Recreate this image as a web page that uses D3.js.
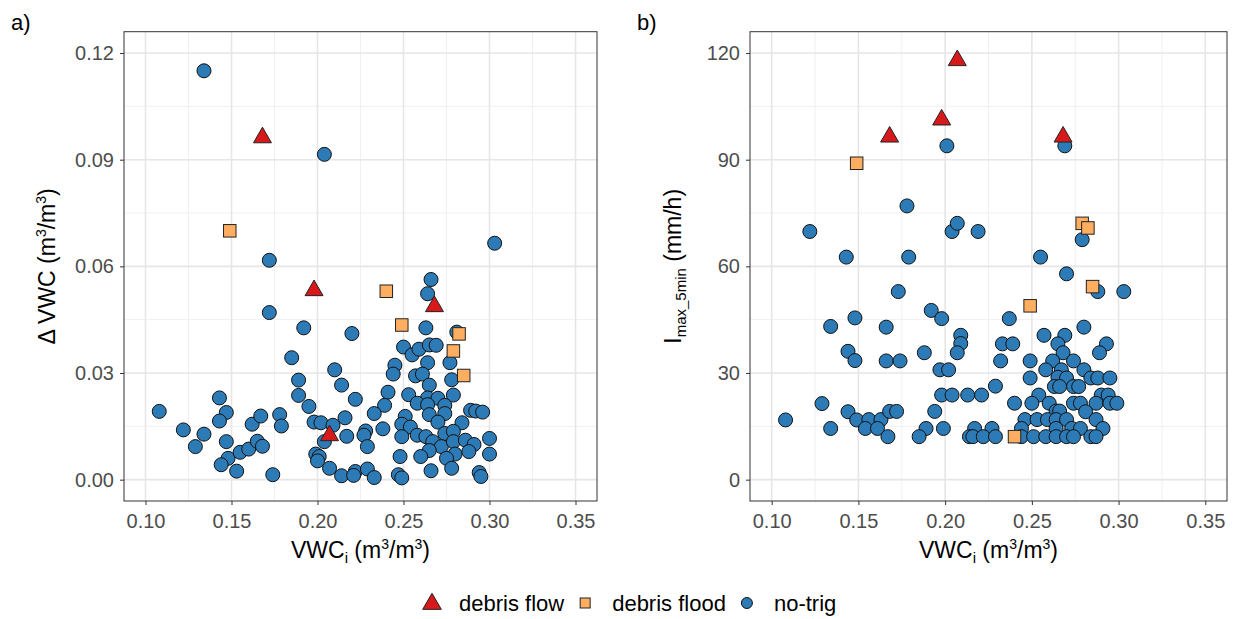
<!DOCTYPE html>
<html lang="en">
<head>
<meta charset="utf-8">
<script src="https://d3js.org/d3.v7.min.js"></script>
<style>
  body { margin: 0; background: #fff; }
  svg { display: block; font-family: "Liberation Sans", Arial, sans-serif; }
  .tick-label { fill: #4d4d4d; font-size: 20px; }
  .axis-title { fill: #000; font-size: 23px; }
</style>
</head>
<body>
<svg id="chart" width="1235" height="619"></svg>
<script>
// ---- data ----
// debris flow events (same VWCi in both panels)
const flowVWC  = [0.168, 0.198, 0.207, 0.268];
const flowDVWC = [0.0965, 0.0535, 0.0127, 0.049];
const flowImax = [96.7, 101.5, 118.2, 96.7];

// debris flood events
const floodVWC  = [0.149, 0.240, 0.249, 0.279, 0.2823, 0.285];
const floodDVWC = [0.070, 0.053, 0.0435, 0.0362, 0.041, 0.0293];
const floodImax = [89.0, 12.1, 48.9, 72.1, 70.8, 54.3];

// no-trig events, panel a: [VWCi, delta VWC]
const noTrigA = [
  [0.134,0.115],[0.204,0.0915],[0.303,0.0665],[0.172,0.0617],[0.266,0.0563],[0.264,0.0523],
  [0.108,0.0192],[0.122,0.014],[0.129,0.0093],[0.134,0.0128],[0.143,0.023],[0.147,0.0189],[0.143,0.0165],
  [0.147,0.0107],[0.148,0.006],[0.144,0.0042],[0.153,0.0024],[0.155,0.0077],[0.160,0.0086],[0.162,0.0156],
  [0.167,0.0179],[0.165,0.0108],[0.168,0.0094],
  [0.172,0.047],[0.178,0.0183],[0.179,0.0151],[0.174,0.0014],
  [0.192,0.0427],[0.220,0.0411],[0.263,0.0427],[0.281,0.0415],
  [0.185,0.0343],[0.250,0.0373],[0.255,0.0351],[0.259,0.0367],[0.265,0.0379],[0.269,0.0378],[0.264,0.0329],[0.277,0.0329],
  [0.210,0.0309],[0.245,0.0322],[0.244,0.0297],[0.257,0.0292],[0.261,0.0297],[0.278,0.0281],
  [0.189,0.028],[0.214,0.0266],[0.265,0.0266],
  [0.241,0.0246],[0.253,0.0239],[0.189,0.0237],[0.279,0.0238],
  [0.222,0.0226],[0.264,0.023],[0.270,0.0229],
  [0.258,0.0215],[0.264,0.0211],[0.274,0.0209],[0.239,0.0209],[0.195,0.0206],
  [0.233,0.0186],[0.274,0.0186],[0.265,0.0183],[0.289,0.0195],[0.292,0.0193],[0.296,0.019],
  [0.251,0.0178],[0.216,0.0174],
  [0.198,0.0162],[0.202,0.016],[0.209,0.0153],[0.249,0.0156],[0.270,0.0162],[0.284,0.016],
  [0.254,0.0148],[0.238,0.0143],[0.228,0.0137],
  [0.258,0.0125],[0.263,0.0121],[0.274,0.013],[0.279,0.0136],[0.217,0.0122],[0.227,0.0125],[0.249,0.0121],
  [0.267,0.0107],[0.272,0.0093],[0.279,0.0107],[0.286,0.0111],[0.291,0.0099],[0.300,0.0116],
  [0.265,0.0082],[0.260,0.0065],[0.280,0.0072],[0.288,0.0079],[0.275,0.006],[0.300,0.0072],
  [0.204,0.0107],[0.199,0.0072],[0.201,0.0065],[0.200,0.0053],
  [0.229,0.0093],[0.248,0.0065],
  [0.207,0.0032],[0.214,0.0011],[0.222,0.0023],[0.221,0.0012],[0.229,0.003],[0.233,0.0006],
  [0.247,0.0014],[0.249,0.0005],[0.266,0.0025],[0.278,0.0032],[0.294,0.002],[0.295,0.0009]
];

// no-trig events, panel b: [VWCi, Imax_5min]
const noTrigB = [
  [0.201,93.9],[0.269,93.9],[0.122,69.8],[0.178,77.0],[0.204,69.8],[0.207,72.1],[0.219,69.8],
  [0.143,62.6],[0.179,62.6],[0.255,62.6],[0.279,67.5],[0.270,57.9],[0.173,52.9],[0.288,52.9],[0.303,52.9],
  [0.148,45.5],[0.134,43.1],[0.144,36.1],[0.148,33.5],[0.129,21.4],[0.144,19.1],[0.108,16.8],[0.149,16.8],[0.134,14.4],
  [0.192,47.6],[0.198,45.3],[0.166,42.9],[0.237,45.3],[0.280,42.9],
  [0.209,40.6],[0.209,38.3],[0.207,35.7],[0.188,35.7],[0.233,38.2],[0.239,38.2],[0.257,40.6],[0.269,40.6],
  [0.265,38.2],[0.268,35.7],[0.293,38.2],[0.289,35.7],
  [0.166,33.4],[0.174,33.4],[0.232,33.4],[0.249,33.4],[0.262,33.4],[0.274,33.4],
  [0.197,30.9],[0.202,30.9],[0.258,30.9],[0.267,30.9],[0.280,30.9],
  [0.249,28.6],[0.265,28.8],[0.270,28.6],[0.284,28.6],[0.288,28.6],[0.295,28.6],
  [0.229,26.3],[0.263,26.2],[0.266,26.2],[0.274,26.2],[0.277,26.2],
  [0.198,23.8],[0.204,23.8],[0.213,23.8],[0.221,23.8],[0.254,23.8],[0.290,23.8],[0.294,23.8],
  [0.240,21.5],[0.250,21.5],[0.260,21.5],[0.274,21.5],[0.278,21.5],[0.287,21.5],[0.295,21.5],[0.299,21.5],
  [0.156,16.9],[0.163,16.9],[0.168,19.2],[0.172,19.2],[0.194,19.2],[0.264,19.3],[0.266,19.3],[0.281,19.1],
  [0.246,16.9],[0.253,16.9],[0.259,16.9],[0.264,16.9],[0.270,16.9],[0.287,16.9],
  [0.154,14.4],[0.161,14.4],[0.189,14.4],[0.199,14.4],[0.217,14.4],[0.227,14.4],[0.244,14.4],
  [0.264,14.4],[0.273,14.4],[0.278,14.4],[0.291,14.4],
  [0.167,12.1],[0.185,12.1],[0.214,12.1],[0.216,12.1],[0.222,12.1],[0.229,12.1],[0.244,12.1],
  [0.251,12.1],[0.258,12.1],[0.264,12.1],[0.270,12.1],[0.274,12.1],[0.284,12.1],[0.287,12.1]
];

const xTicks  = [0.10, 0.15, 0.20, 0.25, 0.30, 0.35];
const yTicksA = [0, 0.03, 0.06, 0.09, 0.12];
const yTicksB = [0, 30, 60, 90, 120];
const legendLabels = ["debris flow", "debris flood", "no-trig"];

// ---- style ----
const colFlow = "#d7191c", colFlood = "#fdae61", colNo = "#2c7bb6";
const svg = d3.select("#chart");
const plotTop = 31.7, plotBottom = 501;

// marker helpers
function circles(g, data, x, y) {
  g.selectAll(null).data(data).join("circle")
    .attr("cx", d => x(d[0])).attr("cy", d => y(d[1])).attr("r", 7)
    .attr("fill", colNo).attr("stroke", "#111").attr("stroke-width", 1);
}
function squares(g, data, x, y) {
  const s = 12.5;
  g.selectAll(null).data(data).join("rect")
    .attr("x", d => x(d[0]) - s/2).attr("y", d => y(d[1]) - s/2)
    .attr("width", s).attr("height", s)
    .attr("fill", colFlood).attr("stroke", "#222").attr("stroke-width", 1);
}
const triSym = d3.symbol().type(d3.symbolTriangle).size(140);
function triangles(g, data, x, y) {
  g.selectAll(null).data(data).join("path")
    .attr("d", triSym)
    .attr("transform", d => `translate(${x(d[0])},${y(d[1]) + 1})`)
    .attr("fill", colFlow).attr("stroke", "#222").attr("stroke-width", 1);
}

function panel(opt) {
  const x = d3.scaleLinear().domain([0.0875, 0.3625]).range([opt.left, opt.right]);
  const y = d3.scaleLinear().domain(opt.yDomain).range([plotBottom, plotTop]);
  const g = svg.append("g");

  // grid: minor then major
  const xMinor = d3.range(0.125, 0.35, 0.05);
  const yStep = opt.yTicks[1] - opt.yTicks[0];
  const yMinor = opt.yTicks.slice(0, -1).map(v => v + yStep / 2);
  g.selectAll(null).data(xMinor).join("line")
    .attr("x1", d => x(d)).attr("x2", d => x(d)).attr("y1", plotTop).attr("y2", plotBottom)
    .attr("stroke", "#f0f0f0").attr("stroke-width", 1);
  g.selectAll(null).data(yMinor).join("line")
    .attr("y1", d => y(d)).attr("y2", d => y(d)).attr("x1", opt.left).attr("x2", opt.right)
    .attr("stroke", "#f0f0f0").attr("stroke-width", 1);
  g.selectAll(null).data(xTicks).join("line")
    .attr("x1", d => x(d)).attr("x2", d => x(d)).attr("y1", plotTop).attr("y2", plotBottom)
    .attr("stroke", "#e6e6e6").attr("stroke-width", 1.6);
  g.selectAll(null).data(opt.yTicks).join("line")
    .attr("y1", d => y(d)).attr("y2", d => y(d)).attr("x1", opt.left).attr("x2", opt.right)
    .attr("stroke", "#e6e6e6").attr("stroke-width", 1.6);

  // axes
  const xAxis = g.append("g").attr("transform", `translate(0,${plotBottom})`)
    .call(d3.axisBottom(x).tickValues(xTicks).tickFormat(d3.format(".2f")).tickSize(4).tickPadding(4));
  const yAxis = g.append("g").attr("transform", `translate(${opt.left},0)`)
    .call(d3.axisLeft(y).tickValues(opt.yTicks).tickFormat(opt.yFormat).tickSize(4).tickPadding(6));
  [xAxis, yAxis].forEach(a => {
    a.select(".domain").remove();
    a.selectAll(".tick line").attr("stroke", "#333");
    a.selectAll(".tick text").attr("class", "tick-label").attr("font-family", null).attr("font-size", null);
  });
  xAxis.selectAll(".tick text").attr("dy", "0.95em");

  // points
  const pts = g.append("g");
  circles(pts, opt.noTrig, x, y);
  squares(pts, opt.flood, x, y);
  triangles(pts, opt.flow, x, y);

  // border
  g.append("rect").attr("x", opt.left).attr("y", plotTop)
    .attr("width", opt.right - opt.left).attr("height", plotBottom - plotTop)
    .attr("fill", "none").attr("stroke", "#333").attr("stroke-width", 1);

  // x title: VWC_i (m3/m3)
  const xt = g.append("text").attr("class", "axis-title")
    .attr("x", (opt.left + opt.right) / 2).attr("y", 558).attr("text-anchor", "middle");
  xt.append("tspan").text("VWC");
  xt.append("tspan").attr("font-size", 15).attr("dy", 5).text("i");
  xt.append("tspan").attr("dy", -5).text(" (m");
  xt.append("tspan").attr("font-size", 14).attr("dy", -9).text("3");
  xt.append("tspan").attr("dy", 9).text("/m");
  xt.append("tspan").attr("font-size", 14).attr("dy", -9).text("3");
  xt.append("tspan").attr("dy", 9).text(")");

  // y title
  const yt = g.append("text").attr("class", "axis-title")
    .attr("transform", `translate(${opt.yTitleX},${(plotTop + plotBottom) / 2}) rotate(-90)`)
    .attr("text-anchor", "middle");
  opt.yTitle(yt);

  // panel tag
  svg.append("text").attr("x", opt.tagX).attr("y", 30).attr("font-size", 22).text(opt.tag);
}

panel({
  left: 124, right: 597, yDomain: [-0.006, 0.126], yTicks: yTicksA, yFormat: d3.format(".2f"),
  noTrig: noTrigA,
  flood: floodVWC.map((v, i) => [v, floodDVWC[i]]),
  flow: flowVWC.map((v, i) => [v, flowDVWC[i]]),
  yTitleX: 55, tag: "a)", tagX: 11,
  yTitle: t => {
    t.append("tspan").text("\u0394 VWC (m");
    t.append("tspan").attr("font-size", 14).attr("dy", -9).text("3");
    t.append("tspan").attr("dy", 9).text("/m");
    t.append("tspan").attr("font-size", 14).attr("dy", -9).text("3");
    t.append("tspan").attr("dy", 9).text(")");
  }
});

panel({
  left: 750, right: 1227, yDomain: [-6, 126], yTicks: yTicksB, yFormat: d3.format("d"),
  noTrig: noTrigB,
  flood: floodVWC.map((v, i) => [v, floodImax[i]]),
  flow: flowVWC.map((v, i) => [v, flowImax[i]]),
  yTitleX: 681, tag: "b)", tagX: 637,
  yTitle: t => {
    t.append("tspan").text("I");
    t.append("tspan").attr("font-size", 15).attr("dy", 5).text("max_5min");
    t.append("tspan").attr("dy", -5).text(" (mm/h)");
  }
});

// ---- legend ----
const leg = svg.append("g");
const legY = 603;
let cx = 432;   // centre of the first key
const keyDraw = [
  (g, c) => g.append("path").attr("d", d3.symbol().type(d3.symbolTriangle).size(150))
      .attr("transform", `translate(${c},${legY + 1})`).attr("fill", colFlow).attr("stroke", "#222"),
  (g, c) => g.append("rect").attr("x", c - 5).attr("y", legY - 5).attr("width", 10).attr("height", 10)
      .attr("fill", colFlood).attr("stroke", "#222"),
  (g, c) => g.append("circle").attr("cx", c).attr("cy", legY).attr("r", 5.5)
      .attr("fill", colNo).attr("stroke", "#111")
];
legendLabels.forEach((lab, i) => {
  keyDraw[i](leg, cx);
  const t = leg.append("text").attr("x", cx + 27).attr("y", legY + 8).attr("font-size", 22).text(lab);
  cx += 27 + t.node().getComputedTextLength() + 21;
});
</script>
</body>
</html>
